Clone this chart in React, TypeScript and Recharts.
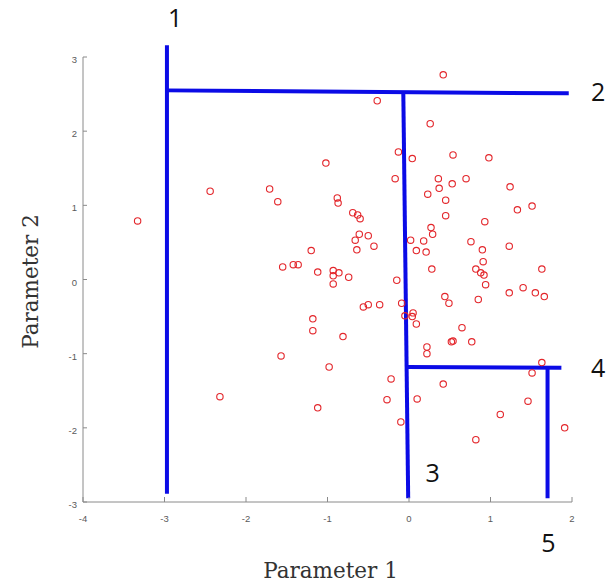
import React from 'react';
import { ScatterChart, Scatter, XAxis, YAxis, ReferenceLine, ReferenceDot, Label } from 'recharts';

const xValues = [
  -3.33, -2.44, -1.71, -1.61, -1.02, 0.42, -0.39, 0.26, -0.13, 0.04,
  0.54, 0.98, -0.17, 0.36, 0.37, 0.53, 0.70, 1.24, 0.23, 0.45,
  0.45, -0.88, -0.87, -0.69, -0.63, -0.60, -0.61, -0.50, -0.66, -0.43,
  -0.64, -1.20, 0.02, 0.18, 0.27, 0.29, 0.09, 0.21, 1.33, 1.51,
  0.93, 0.76, 0.90, 1.23, 0.91, 0.28, 0.82, 0.88, 0.92, 0.94,
  1.63, 1.23, 1.40, 1.55, 1.66, 0.85, 0.44, 0.49, -0.15, -1.55,
  -1.42, -1.36, -1.12, -0.93, -0.86, -0.93, -0.93, -0.74, -0.56, -0.50,
  -0.36, -0.09, 0.05, -0.05, 0.04, 0.09, 0.65, 0.52, 0.54, 0.77,
  0.22, 0.22, 1.63, 1.51, 0.42, 0.10, 1.46, 1.12, 1.91, 0.82,
  -0.10, -1.18, -1.18, -0.81, -1.57, -0.98, -0.22, -0.27, -1.12, -2.32,
];
const yValues = [
  0.79, 1.19, 1.22, 1.05, 1.57, 2.76, 2.41, 2.10, 1.72, 1.63,
  1.68, 1.64, 1.36, 1.36, 1.23, 1.29, 1.36, 1.25, 1.15, 1.07,
  0.86, 1.10, 1.03, 0.90, 0.87, 0.82, 0.61, 0.59, 0.53, 0.45,
  0.40, 0.39, 0.53, 0.52, 0.70, 0.61, 0.39, 0.37, 0.94, 0.99,
  0.78, 0.51, 0.40, 0.45, 0.24, 0.14, 0.14, 0.09, 0.06, -0.07,
  0.14, -0.18, -0.11, -0.18, -0.23, -0.27, -0.23, -0.32, -0.01, 0.17,
  0.20, 0.20, 0.10, 0.12, 0.09, 0.05, -0.06, 0.03, -0.37, -0.34,
  -0.34, -0.32, -0.45, -0.49, -0.50, -0.60, -0.65, -0.84, -0.83, -0.84,
  -0.91, -1.00, -1.12, -1.26, -1.41, -1.61, -1.64, -1.82, -2.00, -2.16,
  -1.92, -0.53, -0.69, -0.77, -1.03, -1.18, -1.34, -1.62, -1.73, -1.58,
];

const xTicks = [-4, -3, -2, -1, 0, 1, 2];
const yTicks = [-3, -2, -1, 0, 1, 2, 3];

// Split lines: start and end points in data units
const splitX1 = [-2.97, -2.97, -0.07, -0.03, 1.70];
const splitY1 = [3.16, 2.55, 2.53, -1.18, -1.18];
const splitX2 = [-2.97, 1.96, -0.01, 1.87, 1.70];
const splitY2 = [-2.89, 2.51, -2.95, -1.19, -2.95];

const regionNames = ['1', '2', '3', '4', '5'];
const regionX = [-2.87, 2.32, 0.29, 2.32, 1.71];
const regionY = [3.53, 2.53, -2.61, -1.20, -3.56];

const points = xValues.map((x, i) => ({ x, y: yValues[i] }));

const AXIS = '#8a8a8a';

const YTick = (props: any) => {
  const { x, y, payload } = props;
  return (
    <g>
      <line x1={x + 6} x2={x + 10} y1={y} y2={y} stroke={AXIS} strokeWidth={1} />
      <text x={x} y={y + 6} textAnchor="end" fontSize={9.5} fill="#5a5a5a" fontFamily="Liberation Sans, Arial, sans-serif">
        {payload.value}
      </text>
    </g>
  );
};

const XTick = (props: any) => {
  const { x, y, payload } = props;
  return (
    <g>
      <line x1={x} x2={x} y1={y - 10} y2={y - 15} stroke={AXIS} strokeWidth={1} />
      <text x={x} y={y + 10} textAnchor="middle" fontSize={9.5} fill="#5a5a5a" fontFamily="Liberation Sans, Arial, sans-serif">
        {payload.value}
      </text>
    </g>
  );
};

const Ring = (p: any) => (
  <circle cx={p.cx} cy={p.cy} r={3.2} fill="none" stroke="#e3262b" strokeWidth={1.1} />
);

export default function App() {
  return (
    <div style={{ position: 'absolute', left: 0, top: 0, background: '#fff' }}>
      <ScatterChart width={611} height={582} margin={{ top: 57, right: 39, bottom: 50, left: 53 }}>
        <XAxis
          type="number"
          dataKey="x"
          domain={[-4, 2]}
          ticks={xTicks}
          allowDataOverflow
          height={30}
          tickSize={0}
          tickMargin={10}
          tickLine={false}
          tick={<XTick />}
          axisLine={{ stroke: AXIS, strokeWidth: 1 }}
        >
          <Label
            content={(props: any) => {
              const vb = props.viewBox || { x: 83, width: 489 };
              return (
                <text x={vb.x + vb.width / 2 + 3} y={578} textAnchor="middle" fontSize={21.5} fill="#333" fontFamily="DejaVu Serif, serif">
                  Parameter 1
                </text>
              );
            }}
          />
        </XAxis>
        <YAxis
          type="number"
          dataKey="y"
          domain={[-3, 3]}
          ticks={yTicks}
          allowDataOverflow
          width={30}
          tickSize={0}
          tickMargin={6}
          tickLine={false}
          tick={<YTick />}
          axisLine={{ stroke: AXIS, strokeWidth: 1 }}
        >
          <Label
            content={(props: any) => {
              const vb = props.viewBox || { y: 57, height: 445 };
              const cy = vb.y + vb.height / 2 + 2;
              return (
                <text
                  x={38}
                  y={cy}
                  transform={`rotate(-90, 38, ${cy})`}
                  textAnchor="middle"
                  fontSize={21.5}
                  fill="#333"
                  fontFamily="DejaVu Serif, serif"
                >
                  Parameter 2
                </text>
              );
            }}
          />
        </YAxis>
        <Scatter data={points} shape={<Ring />} isAnimationActive={false} />
        {splitX1.map((x1, i) => (
          <ReferenceLine
            key={'s' + i}
            segment={[
              { x: x1, y: splitY1[i] },
              { x: splitX2[i], y: splitY2[i] },
            ]}
            stroke="#0b0be6"
            strokeWidth={4}
            ifOverflow="visible"
          />
        ))}
        {regionNames.map((name, i) => (
          <ReferenceDot
            key={'r' + i}
            x={regionX[i]}
            y={regionY[i]}
            r={0}
            fill="none"
            stroke="none"
            ifOverflow="visible"
            label={{ value: name, position: 'center', fontSize: 25, fill: '#111', fontFamily: 'Open Sans, sans-serif' }}
          />
        ))}
      </ScatterChart>
    </div>
  );
}
